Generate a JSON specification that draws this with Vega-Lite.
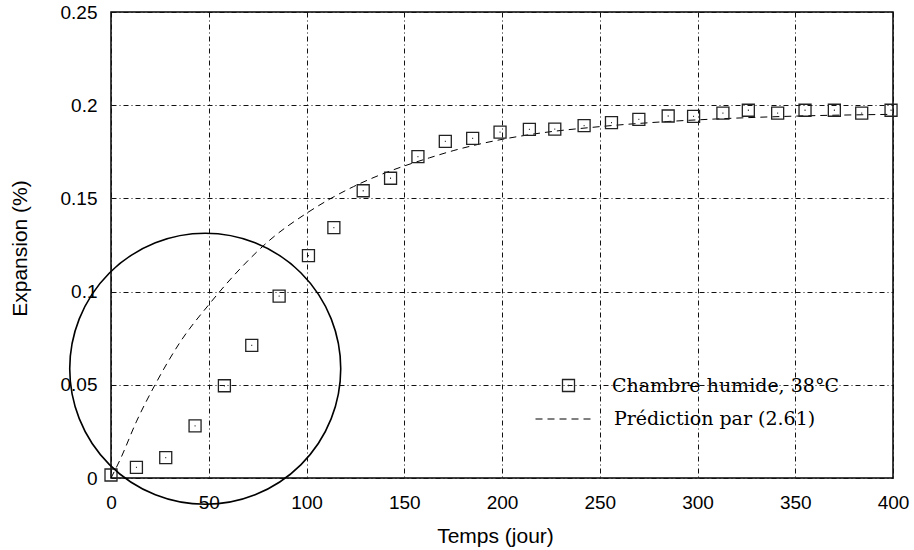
{
  "$schema": "https://vega.github.io/schema/vega-lite/v6.json",
  "width": 782,
  "height": 466,
  "autosize": {"type": "none"},
  "padding": {"left": 111, "top": 12, "right": 21, "bottom": 72},
  "background": "white",
  "datasets": {
    "pts": [
      {"t": 0, "e": 0.0016, "series": "Chambre humide, 38°C"},
      {"t": 13, "e": 0.0057, "series": "Chambre humide, 38°C"},
      {"t": 28, "e": 0.0109, "series": "Chambre humide, 38°C"},
      {"t": 43, "e": 0.028, "series": "Chambre humide, 38°C"},
      {"t": 58, "e": 0.0495, "series": "Chambre humide, 38°C"},
      {"t": 72, "e": 0.0712, "series": "Chambre humide, 38°C"},
      {"t": 86, "e": 0.0976, "series": "Chambre humide, 38°C"},
      {"t": 101, "e": 0.1193, "series": "Chambre humide, 38°C"},
      {"t": 114, "e": 0.1343, "series": "Chambre humide, 38°C"},
      {"t": 129, "e": 0.1541, "series": "Chambre humide, 38°C"},
      {"t": 143, "e": 0.1608, "series": "Chambre humide, 38°C"},
      {"t": 157, "e": 0.1724, "series": "Chambre humide, 38°C"},
      {"t": 171, "e": 0.1806, "series": "Chambre humide, 38°C"},
      {"t": 185, "e": 0.1822, "series": "Chambre humide, 38°C"},
      {"t": 199, "e": 0.1856, "series": "Chambre humide, 38°C"},
      {"t": 214, "e": 0.187, "series": "Chambre humide, 38°C"},
      {"t": 227, "e": 0.1872, "series": "Chambre humide, 38°C"},
      {"t": 242, "e": 0.189, "series": "Chambre humide, 38°C"},
      {"t": 256, "e": 0.1906, "series": "Chambre humide, 38°C"},
      {"t": 270, "e": 0.1924, "series": "Chambre humide, 38°C"},
      {"t": 285, "e": 0.1942, "series": "Chambre humide, 38°C"},
      {"t": 298, "e": 0.194, "series": "Chambre humide, 38°C"},
      {"t": 313, "e": 0.1957, "series": "Chambre humide, 38°C"},
      {"t": 326, "e": 0.1973, "series": "Chambre humide, 38°C"},
      {"t": 341, "e": 0.1957, "series": "Chambre humide, 38°C"},
      {"t": 355, "e": 0.1973, "series": "Chambre humide, 38°C"},
      {"t": 370, "e": 0.1973, "series": "Chambre humide, 38°C"},
      {"t": 384, "e": 0.1957, "series": "Chambre humide, 38°C"},
      {"t": 399, "e": 0.1973, "series": "Chambre humide, 38°C"}
    ],
    "pred": [
      {"t": 0, "e": 0, "series": "Prédiction par (2.61)"},
      {"t": 4.6, "e": 0.0097, "series": "Prédiction par (2.61)"},
      {"t": 13.1, "e": 0.0305, "series": "Prédiction par (2.61)"},
      {"t": 23.3, "e": 0.0515, "series": "Prédiction par (2.61)"},
      {"t": 35.3, "e": 0.0728, "series": "Prédiction par (2.61)"},
      {"t": 50.6, "e": 0.0937, "series": "Prédiction par (2.61)"},
      {"t": 66, "e": 0.1122, "series": "Prédiction par (2.61)"},
      {"t": 81.3, "e": 0.1277, "series": "Prédiction par (2.61)"},
      {"t": 100, "e": 0.142, "series": "Prédiction par (2.61)"},
      {"t": 112, "e": 0.1497, "series": "Prédiction par (2.61)"},
      {"t": 124, "e": 0.1563, "series": "Prédiction par (2.61)"},
      {"t": 137.6, "e": 0.1626, "series": "Prédiction par (2.61)"},
      {"t": 150, "e": 0.1674, "series": "Prédiction par (2.61)"},
      {"t": 163, "e": 0.1718, "series": "Prédiction par (2.61)"},
      {"t": 175, "e": 0.1756, "series": "Prédiction par (2.61)"},
      {"t": 188.7, "e": 0.1792, "series": "Prédiction par (2.61)"},
      {"t": 216, "e": 0.1845, "series": "Prédiction par (2.61)"},
      {"t": 250, "e": 0.1885, "series": "Prédiction par (2.61)"},
      {"t": 284, "e": 0.1912, "series": "Prédiction par (2.61)"},
      {"t": 318, "e": 0.193, "series": "Prédiction par (2.61)"},
      {"t": 352, "e": 0.1942, "series": "Prédiction par (2.61)"},
      {"t": 400, "e": 0.1951, "series": "Prédiction par (2.61)"}
    ],
    "circ": [
      {"t": 48.2, "e": 0.0586}
    ]
  },
  "encoding": {
    "x": {
      "field": "t", "type": "quantitative",
      "scale": {"domain": [0, 400], "nice": false, "zero": false},
      "axis": {
        "title": "Temps (jour)",
        "values": [0, 50, 100, 150, 200, 250, 300, 350, 400],
        "format": "d",
        "labelPadding": 15, "labelFlush": false,
        "titleX": 384, "titleY": 64, "titleBaseline": "alphabetic"
      }
    },
    "y": {
      "field": "e", "type": "quantitative",
      "scale": {"domain": [0, 0.25], "nice": false, "zero": false},
      "axis": {
        "title": "Expansion (%)",
        "values": [0, 0.05, 0.1, 0.15, 0.2, 0.25],
        "format": "~g",
        "labelPadding": 14, "labelFlush": false,
        "titleX": -85, "titleY": 236, "titleAngle": -90,
        "titleBaseline": "alphabetic", "titleAlign": "center"
      }
    }
  },
  "layer": [
    {
      "data": {"name": "pred"},
      "mark": {"type": "line", "color": "#000", "strokeWidth": 1, "interpolate": "monotone"},
      "encoding": {
        "strokeDash": {
          "field": "series", "type": "nominal",
          "scale": {"domain": ["Prédiction par (2.61)"], "range": [[7, 5]]},
          "legend": {
            "orient": "none", "legendX": 424, "legendY": 378,
            "title": null, "padding": 0,
            "symbolType": "stroke", "symbolSize": 3249,
            "symbolStrokeWidth": 1, "symbolStrokeColor": "#000",
            "labelOffset": 21
          }
        }
      }
    },
    {
      "data": {"name": "pts"},
      "mark": {"type": "point", "filled": false, "size": 144, "stroke": "#222", "strokeWidth": 1.3, "opacity": 1},
      "encoding": {
        "shape": {
          "field": "series", "type": "nominal",
          "scale": {"domain": ["Chambre humide, 38°C"], "range": ["M-1,-1H1V1H-1ZM-0.08,0H0.08"]},
          "legend": {
            "orient": "none", "legendX": 448, "legendY": 364,
            "title": null, "padding": 0,
            "symbolSize": 144, "symbolStrokeWidth": 1.3,
            "symbolStrokeColor": "#222", "symbolFillColor": "transparent",
            "labelOffset": 34
          }
        }
      }
    },
    {
      "data": {"name": "circ"},
      "mark": {"type": "point", "shape": "circle", "filled": false, "size": 73440, "stroke": "#000", "strokeWidth": 1.6, "opacity": 1}
    }
  ],
  "config": {
    "view": {"stroke": "#000", "strokeWidth": 1.5},
    "axis": {
      "grid": true, "gridColor": "#111", "gridDash": [5, 3, 1, 3], "gridWidth": 1, "gridOpacity": 1,
      "domain": false, "ticks": false,
      "labelFont": "Liberation Sans", "labelFontSize": 19, "labelColor": "#000",
      "titleFont": "Liberation Sans", "titleFontSize": 21, "titleFontWeight": "normal", "titleColor": "#000"
    },
    "legend": {
      "labelFont": "DejaVu Serif", "labelFontSize": 19, "labelColor": "#000", "labelLimit": 400
    }
  }
}
